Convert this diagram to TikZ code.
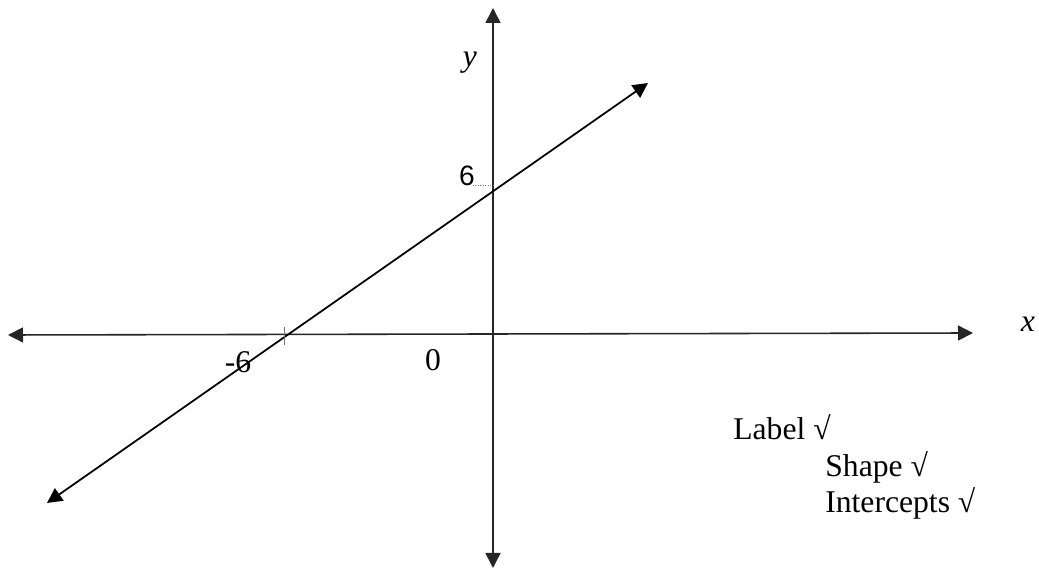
\documentclass[tikz,border=0pt]{standalone}
\usepackage{fontspec}
\setmainfont{Liberation Serif}
\newfontfamily\arialfont{Liberation Sans}
\usetikzlibrary{arrows.meta,positioning}

\begin{document}
\begin{tikzpicture}[
 x=0.02cm,y=-0.02cm,
 axis/.style={
  {Triangle[length=3mm,width=3mm]}-{Triangle[length=3mm,width=3mm]},
  line width=0.9pt,
  black!85
 },
 graph/.style={
  {Triangle[length=3mm,width=3mm]}-{Triangle[length=3mm,width=3mm]},
  line width=1pt
 },
 tick/.style={thin,black!55},
 lbl/.style={inner sep=0pt,font=\fontsize{18}{21}\selectfont},
 mark6/.style={inner sep=0pt,font=\arialfont\fontsize{16}{19}\selectfont}
]
 \useasboundingbox (0,0) rectangle (1039,570);

 % axes
 \coordinate (xl) at (8,335);
 \coordinate (xr) at (973,333);
 \coordinate (yb) at (493,568);
 \coordinate (yt) at (493,8);
 \draw[axis] (xl) -- (xr);
 \draw[axis] (yb) -- (yt);
 \node[lbl,font=\itshape\fontsize{18}{21}\selectfont] (xname) at (1028,324) {x};
 \node[lbl,font=\itshape\fontsize{18}{21}\selectfont] (yname) at (470,63) {y};

 % the line through (-6,0) and (0,6)
 \coordinate (lb) at (47,503);
 \coordinate (lt) at (648,83);
 \draw[graph] (lb) -- (lt);

 % intercepts
 \coordinate (t1) at (284,327);
 \coordinate (t2) at (284,345);
 \draw[tick] (t1) -- (t2);
 \coordinate (t3) at (473,185);
 \coordinate (t4) at (493,185);
 \draw[tick,densely dotted] (t3) -- (t4);
 \node[mark6] (six) at (467,176) {6};
 \node[lbl] (msix) at (238,362) {-6};
 \node[lbl] (zero) at (433,360) {0};

 % marks
 \node[lbl,anchor=base west] (mlabel) at (733,440) {Label √};
 \node[lbl,anchor=base west] (mshape) at (825,477) {Shape √};
 \node[lbl,anchor=base west] (mint) at (825,513) {Intercepts √};
\end{tikzpicture}
\end{document}
